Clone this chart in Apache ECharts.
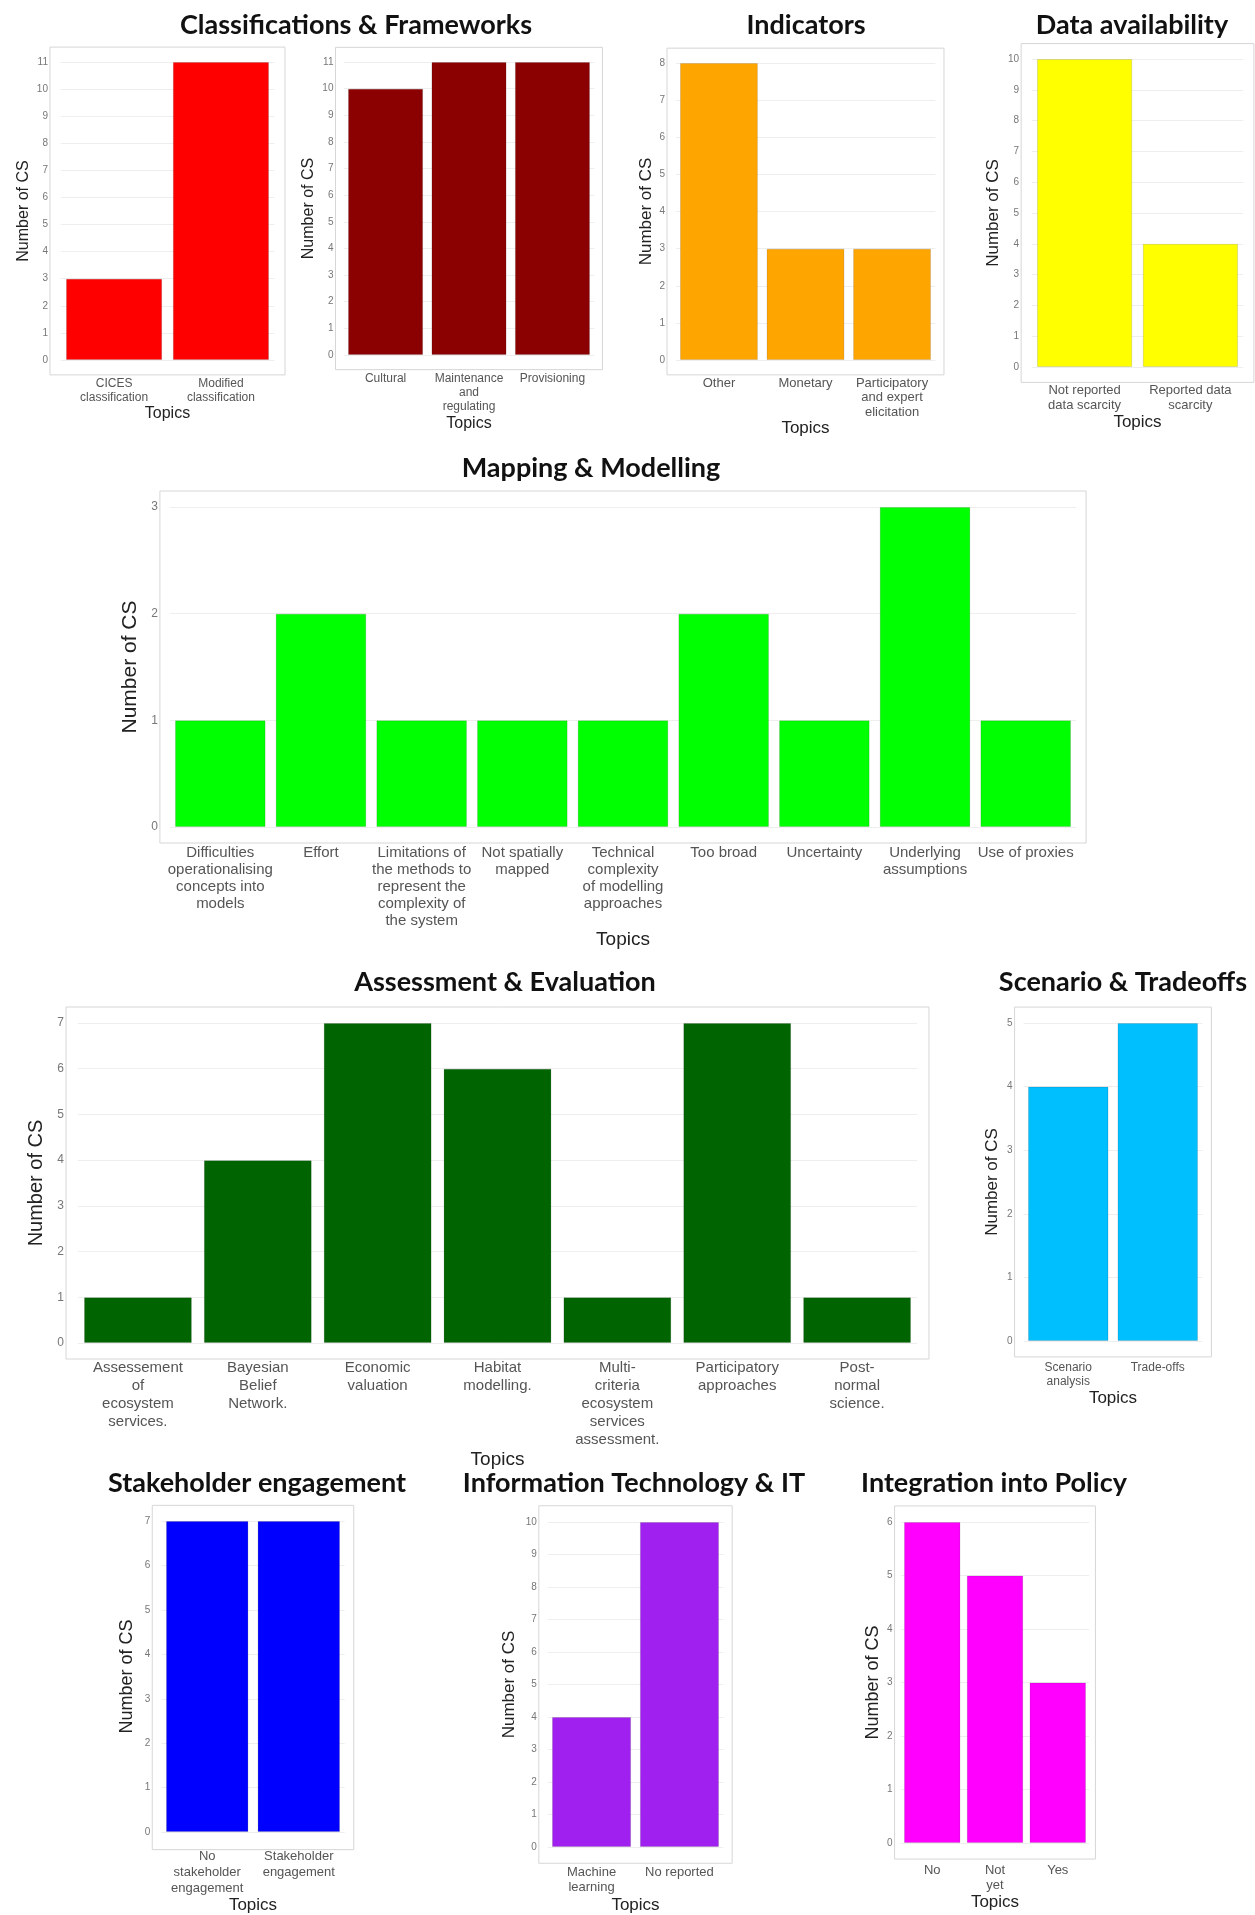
<!DOCTYPE html>
<html><head><meta charset="utf-8">
<script src="https://cdn.jsdelivr.net/npm/echarts@6/dist/echarts.min.js"></script>
<style>html,body{margin:0;padding:0;background:#fff}#c{width:1255px;height:1915px}</style>
</head><body><div id="c"></div>
<script>
// ---------- DATA ----------
const catsClass = ["CICES\nclassification", "Modified\nclassification"];
const valsClass = [3, 11];
const catsServices = ["Cultural", "Maintenance\nand\nregulating", "Provisioning"];
const valsServices = [10, 11, 11];
const catsIndicators = ["Other", "Monetary", "Participatory\nand expert\nelicitation"];
const valsIndicators = [8, 3, 3];
const catsData = ["Not reported\ndata scarcity", "Reported data\nscarcity"];
const valsData = [10, 4];
const catsMapping = ["Difficulties\noperationalising\nconcepts into\nmodels", "Effort",
  "Limitations of\nthe methods to\nrepresent the\ncomplexity of\nthe system", "Not spatially\nmapped",
  "Technical\ncomplexity\nof modelling\napproaches", "Too broad", "Uncertainty",
  "Underlying\nassumptions", "Use of proxies"];
const valsMapping = [1, 2, 1, 1, 1, 2, 1, 3, 1];
const catsAssess = ["Assessement\nof\necosystem\nservices.", "Bayesian\nBelief\nNetwork.",
  "Economic\nvaluation", "Habitat\nmodelling.", "Multi-\ncriteria\necosystem\nservices\nassessment.",
  "Participatory\napproaches", "Post-\nnormal\nscience."];
const valsAssess = [1, 4, 7, 6, 1, 7, 1];
const catsScenario = ["Scenario\nanalysis", "Trade-offs"];
const valsScenario = [4, 5];
const catsStake = ["No\nstakeholder\nengagement", "Stakeholder\nengagement"];
const valsStake = [7, 7];
const catsIT = ["Machine\nlearning", "No reported"];
const valsIT = [4, 10];
const catsPolicy = ["No", "Not\nyet", "Yes"];
const valsPolicy = [6, 5, 3];

const titleTexts = ["Classifications & Frameworks", "Indicators", "Data availability",
  "Mapping & Modelling", "Assessment & Evaluation", "Scenario & Tradeoffs",
  "Stakeholder engagement", "Information Technology & IT", "Integration into Policy"];
const yTitle = "Number of CS";
const xTitle = "Topics";

// ---------- LAYOUT / STYLE ----------
const titlePos = [[356, 25], [806, 25], [1132, 25], [591, 468], [505, 982], [1123, 982], [257, 1483], [634, 1483], [994, 1483]];
const panels = [
  {cats: catsClass, vals: valsClass, color: '#FF0000', L: 66, R: 269, y0: 360, yTop: 62, yNameX: 24, yNameFs: 16, tickFs: 10, xFs: 12, xLh: 14, xLab0: 384, topicsY: 413, topicsFs: 16},
  {cats: catsServices, vals: valsServices, color: '#8B0000', L: 348, R: 590, y0: 355, yTop: 62, yNameX: 309, yNameFs: 16, tickFs: 10, xFs: 12, xLh: 14, xLab0: 379, topicsY: 424, topicsFs: 16},
  {cats: catsIndicators, vals: valsIndicators, color: '#FFA500', L: 680, R: 931, y0: 360, yTop: 63, yNameX: 646, yNameFs: 17, tickFs: 10, xFs: 13, xLh: 14.5, xLab0: 383, topicsY: 428, topicsFs: 17},
  {cats: catsData, vals: valsData, color: '#FFFF00', L: 1037, R: 1238, y0: 367, yTop: 59, yNameX: 993, yNameFs: 17, tickFs: 10, xFs: 13, xLh: 15, xLab0: 390, topicsY: 418, topicsFs: 17},
  {cats: catsMapping, vals: valsMapping, color: '#00FF00', L: 175, R: 1071, y0: 827, yTop: 507, yNameX: 138, yNameFs: 21, tickFs: 12, xFs: 15, xLh: 17, xLab0: 853, topicsY: 940, topicsFs: 19},
  {cats: catsAssess, vals: valsAssess, color: '#006400', L: 84, R: 911, y0: 1343, yTop: 1023, yNameX: 44, yNameFs: 20, tickFs: 12, xFs: 15, xLh: 18, xLab0: 1368, topicsY: 1458, topicsFs: 19},
  {cats: catsScenario, vals: valsScenario, color: '#00BFFF', L: 1028, R: 1198, y0: 1341, yTop: 1023, yNameX: 992, yNameFs: 17, tickFs: 10, xFs: 12, xLh: 14, xLab0: 1368, topicsY: 1395, topicsFs: 17},
  {cats: catsStake, vals: valsStake, color: '#0000FF', L: 166, R: 340, y0: 1834, yTop: 1521, yNameX: 127, yNameFs: 18, tickFs: 10, xFs: 13, xLh: 16, xLab0: 1858, topicsY: 1905, topicsFs: 17},
  {cats: catsIT, vals: valsIT, color: '#A020F0', L: 552, R: 719, y0: 1847, yTop: 1522, yNameX: 509, yNameFs: 17, tickFs: 10, xFs: 13, xLh: 15, xLab0: 1872, topicsY: 1905, topicsFs: 17},
  {cats: catsPolicy, vals: valsPolicy, color: '#FF00FF', L: 904, R: 1086, y0: 1843, yTop: 1522, yNameX: 873, yNameFs: 18, tickFs: 10, xFs: 13, xLh: 15, xLab0: 1870, topicsY: 1902, topicsFs: 17}
];
const FONT = '"Liberation Sans", Arial, sans-serif';
const TITLE_FONT = 'Lato, "Open Sans", sans-serif';

const option = {animation: false, backgroundColor: '#fff', title: [], grid: [], xAxis: [], yAxis: [], series: [], graphic: []};

titleTexts.forEach((t, i) => {
  option.title.push({text: t, left: titlePos[i][0], top: titlePos[i][1], textAlign: 'center', textVerticalAlign: 'middle', padding: 0,
    textStyle: {fontFamily: TITLE_FONT, fontWeight: 'bold', fontSize: 27, color: '#111'}});
});

panels.forEach((p, i) => {
  const n = p.cats.length;
  const u = (p.R - p.L) / (n - 0.1);
  const gl = p.L - 0.05 * u, gr = p.R + 0.05 * u;
  const h = p.y0 - p.yTop;
  option.grid.push({left: gl, top: p.yTop, width: gr - gl, height: h, containLabel: false});
  option.graphic.push({type: 'rect', silent: true, z: 0,
    shape: {x: gl - 0.1 * u, y: p.yTop - 0.05 * h, width: gr - gl + 0.2 * u, height: h * 1.1},
    style: {fill: 'none', stroke: '#d6d6d6', lineWidth: 1}});
  option.xAxis.push({type: 'category', gridIndex: i, data: p.cats,
    axisLine: {show: false}, axisTick: {show: false}, splitLine: {show: false},
    axisLabel: {interval: 0, fontSize: p.xFs, lineHeight: p.xLh, color: '#555', fontFamily: FONT, margin: p.xLab0 - p.xLh / 2 - p.y0},
    name: xTitle, nameLocation: 'middle', nameGap: p.topicsY - p.topicsFs / 2 - p.y0,
    nameTextStyle: {fontSize: p.topicsFs, lineHeight: p.topicsFs, color: '#222', fontFamily: FONT}});
  option.yAxis.push({type: 'value', gridIndex: i, min: 0, max: Math.max(...p.vals), interval: 1,
    axisLine: {show: false}, axisTick: {show: false},
    axisLabel: {fontSize: p.tickFs, color: '#777', fontFamily: FONT, margin: 0.1 * u + 2},
    splitLine: {lineStyle: {color: '#eeeeee', width: 1}},
    name: yTitle, nameLocation: 'middle', nameRotate: 90, nameGap: gl - p.yNameX - p.yNameFs / 2,
    nameTextStyle: {fontSize: p.yNameFs, lineHeight: p.yNameFs, color: '#222', fontFamily: FONT}});
  option.series.push({type: 'bar', xAxisIndex: i, yAxisIndex: i, data: p.vals, barCategoryGap: '10%',
    itemStyle: {color: p.color, borderColor: 'rgba(0,0,0,0.12)', borderWidth: 1}});
});

const chart = echarts.init(document.getElementById('c'), null, {renderer: 'canvas'});
chart.setOption(option);
</script></body></html>
